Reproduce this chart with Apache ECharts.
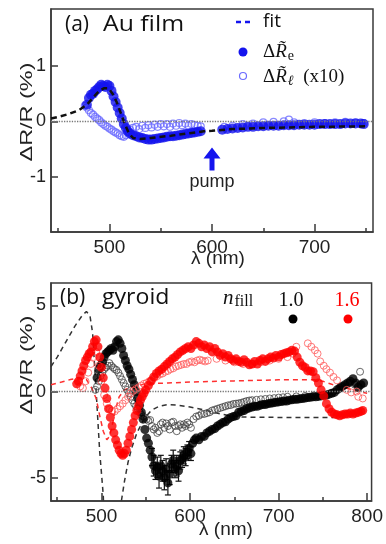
<!DOCTYPE html>
<html><head><meta charset="utf-8">
<script src="https://cdn.jsdelivr.net/npm/echarts@6/dist/echarts.min.js"></script>
<style>html,body{margin:0;padding:0;background:#fff}#c{width:386px;height:544px}</style>
</head><body><div id="c"></div>
<script>
// ---------- Panel (a): Au film ----------
var auFit = [[443,0.05],[450,0.08],[460,0.13],[470,0.2],[478,0.3],[485,0.45],[490,0.55],[495,0.6],[499,0.6],[503,0.5],[507,0.35],[511,0.15],[515,-0.05],[519,-0.22],[523,-0.3],[530,-0.32],[540,-0.3],[560,-0.26],[580,-0.21],[592,-0.18],[600,-0.17],[620,-0.14],[650,-0.12],[700,-0.1],[750,-0.09]];
var auRe = [[478,0.3],[480,0.42],[482,0.48],[484,0.5],[486,0.55],[488,0.58],[490,0.62],[492,0.66],[494,0.64],[496,0.62],[498,0.66],[500,0.64],[502,0.55],[504,0.45],[506,0.35],[508,0.25],[510,0.15],[512,0.05],[514,-0.05],[516,-0.12],[518,-0.18],[520,-0.22],[523,-0.25],[526,-0.27],[529,-0.29],[532,-0.3],[535,-0.32],[538,-0.33],[541,-0.33],[544,-0.32],[547,-0.31],[550,-0.3],[553,-0.29],[556,-0.28],[559,-0.27],[562,-0.27],[565,-0.26],[568,-0.25],[571,-0.24],[574,-0.23],[577,-0.22],[580,-0.21],[583,-0.2],[586,-0.19],[589,-0.18],
[610,-0.15],[615,-0.14],[620,-0.13],[625,-0.12],[630,-0.11],[635,-0.1],[640,-0.1],[645,-0.09],[650,-0.09],[655,-0.08],[660,-0.08],[665,-0.08],[670,-0.07],[675,-0.07],[680,-0.07],[685,-0.06],[690,-0.06],[695,-0.06],[700,-0.06],[705,-0.05],[710,-0.05],[715,-0.05],[720,-0.05],[725,-0.05],[730,-0.04],[735,-0.04],[740,-0.04],[745,-0.04],[748,-0.05]];
var auRl = [[476,0.28],[478,0.25],[480,0.2],[482,0.15],[484,0.12],[486,0.08],[488,0.05],[490,0.02],[492,-0.02],[494,-0.05],[496,-0.08],[498,-0.1],[500,-0.13],[502,-0.15],[504,-0.18],[506,-0.2],[508,-0.22],[510,-0.25],[512,-0.27],[514,-0.28],[516,-0.25],[518,-0.2],[520,-0.15],[523,-0.12],[526,-0.1],[529,-0.14],[532,-0.08],[535,-0.12],[538,-0.07],[541,-0.11],[544,-0.06],[547,-0.1],[550,-0.05],[553,-0.09],[556,-0.05],[559,-0.1],[562,-0.04],[565,-0.08],[568,-0.03],[571,-0.07],[574,-0.04],[577,-0.08],[580,-0.05],[583,-0.07],[586,-0.08],[589,-0.09],
[612,-0.1],[620,-0.08],[630,-0.05],[640,-0.04],[650,-0.02],[660,-0.01],[670,0.0],[675,0.03],[680,-0.02],[690,-0.03],[700,-0.02],[710,-0.03],[720,-0.02],[730,-0.01],[740,-0.02],[748,-0.03]];
var pumpLambda = 600;
var ticksA_major = [500,600,700], ticksA_minor = [450,550,650,750], ticksA_y = [-1,0,1];

// ---------- Panel (b): gyroid ----------
var fit10 = [[443,1.45],[450,2.0],[460,2.9],[470,3.8],[478,4.4],[483,4.65],[487,4.4],[490,3.4],[494,0.0],[498,-3.5],[502,-6.0],[504,-9],[510,-14],[518,-10],[522,-6.5],[526,-5.2],[530,-4.1],[534,-3.3],[540,-2.4],[548,-1.6],[556,-1.1],[565,-0.85],[575,-0.75],[585,-0.78],[600,-0.9],[615,-1.05],[630,-1.25],[645,-1.4],[660,-1.48],[700,-1.5],[762,-1.5]];
var fit16 = [[443,0.4],[455,0.55],[465,0.7],[475,0.8],[483,0.7],[489,0.2],[494,-0.4],[498,-1.4],[502,-2.3],[506,-2.8],[509,-2.6],[512,-2.0],[516,-1.0],[520,-0.3],[526,0.1],[535,0.3],[550,0.45],[575,0.5],[600,0.55],[650,0.62],[700,0.68],[740,0.68],[750,0.6],[760,0.42],[770,0.3],[780,0.15],[790,0.0],[800,-0.1]];
var red16 = [[472,0.45],[474,0.6],[476,0.9],[478,1.2],[480,1.5],[482,1.8],[484,2.0],[486,2.2],[488,2.3],[490,2.6],[492,2.9],[494,3.0],[496,2.6],[498,2.0],[500,1.4],[502,0.8],[504,0.2],[506,-0.4],[508,-1.0],[510,-1.5],[512,-2.0],[514,-2.4],[516,-2.8],[518,-3.1],[520,-3.4],[522,-3.6],[524,-3.7],[526,-3.6],[528,-3.4],[530,-3.0],[532,-2.6],[534,-2.2],[536,-1.8],[538,-1.4],[540,-1.1],[542,-0.8],[544,-0.5],[546,-0.3],[548,-0.1],[550,0.1],[553,0.35],[556,0.6],[559,0.85],[562,1.05],[565,1.2],[568,1.3],[571,1.45],[574,1.6],[577,1.75],[580,1.9],[583,2.0],[586,2.15],[589,2.3],[592,2.4],[595,2.5],[598,2.6],[601,2.5],[604,2.7],[607,2.9],[610,2.8],[613,2.6],[616,2.7],[619,2.5],[622,2.6],[625,2.3],[628,2.5],[631,2.3],[634,2.1],[637,2.2],[640,2.0],[643,2.1],[646,1.9],[649,1.8],[652,1.9],[655,1.75],[658,1.7],[661,1.85],[664,1.7],[667,1.55],[670,1.6],[673,1.75],[676,1.6],[679,1.8],[682,1.9],[685,1.75],[688,1.9],[691,2.0],[694,1.95],[697,2.1],[700,2.0],[703,2.15],[706,2.2],[709,2.25],[712,2.3],[715,2.4],[718,2.35],[721,2.0],[724,1.7],[727,1.5],[730,1.4],[733,1.2],[736,1.2],[739,1.15],[742,0.8],[745,0.5],[748,0.1],[751,-0.25],[754,-0.7],[757,-1.0],[760,-1.2],[763,-1.3],[766,-1.35],[769,-1.4],[772,-1.35],[775,-1.3],[778,-1.3],[781,-1.25],[784,-1.3],[787,-1.25],[790,-1.2],[793,-1.15],[795,-1.1]];
var red16late = [[476,0.3],[479,0.2],[482,0.6],[485,1.1],[488,1.6],[491,2.0],[494,2.3],[497,1.5],[500,0.6],[503,-0.2],[506,-0.7],[509,-1.0],[512,-1.1],[515,-1.15],[518,-1.0],[521,-0.85],[524,-0.7],[527,-0.5],[530,-0.3],[533,-0.1],[536,0.05],[539,0.15],[542,0.25],[545,0.35],[548,0.45],[551,0.5],[554,0.6],[557,0.7],[560,0.8],[563,0.9],[566,1.0],[569,1.05],[572,1.15],[575,1.2],[578,1.3],[581,1.35],[584,1.45],[587,1.5],[590,1.55],[593,1.6],[596,1.6],[599,1.7],[602,1.75],[605,1.7],[608,1.8],[611,1.85],[614,1.8],[617,1.75],[620,1.8],[630,1.9],[640,1.8],[650,1.7],[660,1.6],[670,1.6],[680,1.7],[690,1.8],[700,1.9],[710,2.0],[716,2.2],[720,2.6],[733,2.8],[737,2.6],[741,2.4],[744,2.2],[747,1.75],[751,1.5],[754,1.3],[758,1.1],[762,0.85],[766,0.65],[777,0.1],[782,-0.05],[788,0.0],[790,-0.3],[795,-0.4]];
var black10 = [[495,0.8],[497,1.3],[499,1.5],[501,1.7],[503,2.0],[505,2.2],[507,2.3],[509,2.4],[511,2.5],[513,2.4],[515,2.6],[517,2.9],[519,3.0],[521,2.8],[523,2.5],[525,2.1],[527,1.8],[529,1.5],[531,1.3],[533,1.0],[535,0.7],[537,0.4],[539,0.0],[541,-0.4],[543,-0.8],[545,-1.2],[547,-1.6],[549,-2.2],[551,-2.7],[553,-3.0],[555,-3.4],[557,-3.8],[559,-4.3],[561,-4.6],[563,-4.4],[565,-4.9],[567,-4.3],[569,-4.6],[571,-5.0],[573,-4.5],[575,-5.3],[577,-4.8],[579,-4.2],[581,-4.0],[583,-4.5],[585,-4.3],[587,-4.6],[589,-4.0],[591,-3.9],[593,-3.7],[595,-3.8],[597,-3.5],[599,-3.3],[601,-3.6],[603,-3.0],[605,-2.8],[607,-2.7],[610,-2.8],[613,-2.6],[616,-2.6],[619,-2.4],[622,-2.3],[625,-2.2],[628,-2.15],[631,-2.0],[634,-1.9],[637,-1.8],[640,-1.75],[643,-1.6],[646,-1.5],[649,-1.45],[652,-1.4],[655,-1.2],[658,-1.15],[661,-1.1],[664,-1.0],[667,-0.95],[670,-0.9],[673,-0.85],[676,-0.85],[679,-0.8],[682,-0.75],[685,-0.75],[688,-0.7],[691,-0.68],[694,-0.65],[697,-0.62],[700,-0.6],[703,-0.58],[706,-0.55],[709,-0.55],[712,-0.5],[715,-0.48],[718,-0.45],[721,-0.45],[724,-0.42],[727,-0.4],[730,-0.38],[733,-0.35],[736,-0.33],[739,-0.3],[742,-0.3],[745,-0.28],[748,-0.25],[751,-0.22],[754,-0.2],[757,-0.15],[760,-0.1],[763,-0.05],[766,0.1],[769,0.2],[772,0.3],[775,0.4],[778,0.5],[781,0.6],[784,0.75],[787,0.5],[790,0.25],[793,0.4],[796,0.5]];
var black10err = [[557,0.5],[559,0.6],[561,0.5],[563,0.6],[565,0.7],[567,0.6],[569,0.6],[571,0.7],[573,0.6],[575,0.7],[577,0.6],[579,0.5],[581,0.6],[583,0.5],[585,0.6],[587,0.6],[589,0.5],[591,0.5],[593,0.5],[595,0.5],[597,0.4],[599,0.4],[601,0.4]];
var black10late = [[493,0.1],[495,0.3],[497,0.6],[499,0.9],[501,1.1],[503,1.3],[505,1.4],[507,1.5],[509,1.65],[511,1.5],[513,1.4],[515,1.3],[517,1.25],[519,1.1],[521,0.9],[523,0.7],[525,0.5],[527,0.3],[529,0.1],[531,-0.1],[533,-0.3],[535,-0.5],[537,-0.7],[539,-0.85],[541,-1.0],[543,-1.2],[545,-1.35],[547,-1.45],[549,-1.5],[551,-1.6],[553,-1.7],[555,-1.65],[557,-2.0],[559,-2.2],[561,-2.1],[563,-2.4],[565,-2.3],[567,-1.9],[569,-1.8],[571,-2.1],[573,-1.85],[575,-2.0],[577,-2.2],[579,-1.8],[581,-1.75],[583,-2.0],[585,-2.3],[587,-2.0],[589,-1.9],[591,-2.1],[593,-1.9],[595,-2.0],[597,-1.8],[599,-1.9],[601,-2.1],[604,-1.6],[607,-1.45],[610,-1.4],[613,-1.3],[616,-1.3],[619,-1.25],[622,-1.2],[625,-1.1],[628,-1.05],[631,-1.0],[634,-0.95],[637,-0.9],[640,-0.85],[643,-0.8],[646,-0.78],[649,-0.72],[652,-0.7],[655,-0.68],[658,-0.65],[661,-0.6],[664,-0.55],[667,-0.52],[670,-0.5],[675,-0.48],[680,-0.45],[685,-0.43],[690,-0.4],[695,-0.38],[700,-0.35],[705,-0.33],[710,-0.3],[720,-0.28],[730,-0.25],[740,-0.22],[750,-0.2],[760,-0.1],[770,0.3],[780,0.5],[786,0.4],[792,1.15]];
var ticksB_major = [500,600,700,800], ticksB_minor = [450,550,650,750], ticksB_y = [-5,0,5];

// ---------- build ----------
var AX = '#3a3a3a';
var sans = '"Liberation Sans", Arial, sans-serif';
var serif = '"Liberation Serif", "DejaVu Serif", serif';
function xMajor(g, mn, mx, ticks){return {type:'value',gridIndex:g,position:'bottom',min:mn,max:mx,
  axisLine:{show:true,onZero:false,lineStyle:{color:AX,width:1.5}},
  axisTick:{show:true,inside:true,length:8,customValues:ticks,lineStyle:{color:AX,width:1.5}},
  axisLabel:{customValues:ticks,color:'#222',fontSize:19,fontFamily:sans,margin:6},splitLine:{show:false}};}
function xMinor(g, mn, mx, ticks){return {type:'value',gridIndex:g,position:'bottom',min:mn,max:mx,
  axisLine:{show:false,onZero:false},axisTick:{show:true,inside:true,length:4,customValues:ticks,lineStyle:{color:AX,width:1.5}},
  axisLabel:{show:false},splitLine:{show:false}};}
function yAx(g, mn, mx, ticks){return {type:'value',gridIndex:g,min:mn,max:mx,
  axisLine:{show:true,onZero:false,lineStyle:{color:AX,width:1.5}},
  axisTick:{show:true,inside:true,length:7,customValues:ticks,lineStyle:{color:AX,width:1.5}},
  axisLabel:{customValues:ticks,color:'#222',fontSize:18,fontFamily:sans,margin:5},splitLine:{show:false}};}

function lookup(arr, x){for(var i=0;i<arr.length;i++){if(arr[i][0]===x)return arr[i][1];}return null;}
var errData = black10err.map(function(d){var v=lookup(black10,d[0]);return [d[0], v-d[1], v+d[1]];});

var zeroLine = {silent:true,symbol:'none',label:{show:false},lineStyle:{type:'dotted',color:'#777',width:1.3},data:[{yAxis:0}]};

var option = {
  animation:false,
  grid:[
    {left:51,top:9,width:322,height:223,show:true,borderColor:AX,borderWidth:1.5,backgroundColor:'transparent'},
    {left:51,top:283,width:321,height:218,show:true,borderColor:AX,borderWidth:1.5,backgroundColor:'transparent'}
  ],
  xAxis:[xMajor(0,443,757,ticksA_major), xMinor(0,443,757,ticksA_minor), xMajor(1,443,805,ticksB_major), xMinor(1,443,805,ticksB_minor)],
  yAxis:[yAx(0,-2.0,2.03,ticksA_y), yAx(1,-6.35,6.3,ticksB_y)],
  series:[
    // panel a
    {type:'scatter',xAxisIndex:0,yAxisIndex:0,data:auRl,symbol:'circle',symbolSize:7,
      itemStyle:{color:'rgba(0,0,0,0)',borderColor:'#6b6bff',borderWidth:1.2},z:2},
    {type:'scatter',xAxisIndex:0,yAxisIndex:0,data:auRe,symbol:'circle',symbolSize:10,
      itemStyle:{color:'#1414ee'},z:3,
      markPoint:{silent:true,data:[
        {coord:[pumpLambda,-0.68],symbol:'path://M8.5,0 L17,11 L11,11 L11,23 L6,23 L6,11 L0,11 Z',symbolSize:[17,23],itemStyle:{color:'#1414ee'},label:{show:false}},
        {coord:[pumpLambda,-1.1],symbol:'circle',symbolSize:1,itemStyle:{color:'rgba(0,0,0,0)'},label:{show:true,position:'inside',formatter:'pump',color:'#222',fontSize:18,fontFamily:sans}}
      ]}},
    {type:'line',xAxisIndex:0,yAxisIndex:0,data:auFit,showSymbol:false,symbol:'none',
      lineStyle:{color:'#111',width:2.5,type:[6,4]},z:4,markLine:zeroLine},
    // panel b
    {type:'line',xAxisIndex:2,yAxisIndex:1,data:fit10,showSymbol:false,symbol:'none',
      lineStyle:{color:'#333',width:1.5,type:[5,4]},z:1,markLine:zeroLine},
    {type:'line',xAxisIndex:2,yAxisIndex:1,data:fit16,showSymbol:false,symbol:'none',
      lineStyle:{color:'#ff3030',width:1.5,type:[5,4]},z:1},
    {type:'scatter',xAxisIndex:2,yAxisIndex:1,data:black10late,symbol:'circle',symbolSize:7,
      itemStyle:{color:'rgba(0,0,0,0)',borderColor:'#444',borderWidth:1},z:2},
    {type:'custom',xAxisIndex:2,yAxisIndex:1,data:errData,z:3,
      renderItem:function(p,api){var x=api.value(0),lo=api.value(1),hi=api.value(2);
        var a=api.coord([x,hi]),b=api.coord([x,lo]);var w=3;var st={stroke:'#111',lineWidth:1.2};
        return {type:'group',children:[
          {type:'line',shape:{x1:a[0],y1:a[1],x2:b[0],y2:b[1]},style:st},
          {type:'line',shape:{x1:a[0]-w,y1:a[1],x2:a[0]+w,y2:a[1]},style:st},
          {type:'line',shape:{x1:b[0]-w,y1:b[1],x2:b[0]+w,y2:b[1]},style:st}]};}},
    {type:'scatter',xAxisIndex:2,yAxisIndex:1,data:black10,symbol:'circle',symbolSize:9,
      itemStyle:{color:'#000'},z:3},
    {type:'scatter',xAxisIndex:2,yAxisIndex:1,data:red16late,symbol:'circle',symbolSize:7,
      itemStyle:{color:'rgba(0,0,0,0)',borderColor:'#ff5a5a',borderWidth:1},z:4},
    {type:'scatter',xAxisIndex:2,yAxisIndex:1,data:red16,symbol:'circle',symbolSize:9,
      itemStyle:{color:'#ff0000'},z:5}
  ],
  graphic:[
    // panel a labels
    {type:'text',x:65,y:25,style:{text:'(a)',font:'21px "Open Sans", sans-serif',fill:'#111',verticalAlign:'middle'}},
    {type:'text',x:103,y:25,scaleX:1.18,style:{text:'Au film',font:'21px "Open Sans", sans-serif',fill:'#111',verticalAlign:'middle'}},
    {type:'text',x:27,y:112,rotation:Math.PI/2,scaleX:1.38,style:{text:'\u0394R/R (%)',font:'17px '+sans,fill:'#222',align:'center',verticalAlign:'middle'}},
    {type:'text',x:218,y:259,style:{text:'\u03bb (nm)',font:'19px '+sans,fill:'#222',align:'center',verticalAlign:'middle'}},
    // legend a
    {type:'line',shape:{x1:236,y1:22,x2:250,y2:22},style:{stroke:'#1414ee',lineWidth:2.5,lineDash:[5,4]}},
    {type:'text',x:263,y:22,style:{text:'fit',font:'19px "Open Sans", sans-serif',fill:'#111',verticalAlign:'middle'}},
    {type:'circle',shape:{cx:243,cy:52,r:4.5},style:{fill:'#1414ee'}},
    {type:'text',x:263,y:52,style:{text:'{a|\u0394}{r|R\u0303}{s|e}',verticalAlign:'middle',
      rich:{a:{font:'19px '+serif,fill:'#111'},r:{font:'italic 19px '+serif,fill:'#111'},s:{font:'14px '+serif,fill:'#111',padding:[9,0,0,1]}}}},
    {type:'circle',shape:{cx:243,cy:76,r:3.5},style:{fill:'none',stroke:'#6b6bff',lineWidth:1.2}},
    {type:'text',x:263,y:77,style:{text:'{a|\u0394}{r|R\u0303}{s|\u2113}{b|  (x10)}',verticalAlign:'middle',
      rich:{a:{font:'19px '+serif,fill:'#111'},r:{font:'italic 19px '+serif,fill:'#111'},s:{font:'italic 14px '+serif,fill:'#111',padding:[9,0,0,1]},b:{font:'19px '+serif,fill:'#111'}}}},
    // panel b labels
    {type:'text',x:60,y:298,style:{text:'(b)',font:'21px "Open Sans", sans-serif',fill:'#111',verticalAlign:'middle'}},
    {type:'text',x:102,y:298,scaleX:1.1,style:{text:'gyroid',font:'21px "Open Sans", sans-serif',fill:'#111',verticalAlign:'middle'}},
    {type:'text',x:27,y:365,rotation:Math.PI/2,scaleX:1.38,style:{text:'\u0394R/R (%)',font:'17px '+sans,fill:'#222',align:'center',verticalAlign:'middle'}},
    {type:'text',x:226,y:530,style:{text:'\u03bb (nm)',font:'19px '+sans,fill:'#222',align:'center',verticalAlign:'middle'}},
    {type:'text',x:223,y:298,style:{text:'{n|n}{f|fill}',verticalAlign:'middle',
      rich:{n:{font:'italic 21px '+serif,fill:'#111'},f:{font:'16px '+serif,fill:'#111',padding:[8,0,0,1]}}}},
    {type:'text',x:291,y:301,style:{text:'1.0',font:'20px '+serif,fill:'#111',align:'center',verticalAlign:'middle'}},
    {type:'text',x:347,y:301,style:{text:'1.6',font:'20px '+serif,fill:'#ff0000',align:'center',verticalAlign:'middle'}},
    {type:'circle',shape:{cx:293,cy:319,r:4.5},style:{fill:'#000'}},
    {type:'circle',shape:{cx:348,cy:319,r:4.5},style:{fill:'#ff0000'}}
  ]
};
var chart = echarts.init(document.getElementById('c'), null, {renderer:'canvas'});
chart.setOption(option);
</script></body></html>
